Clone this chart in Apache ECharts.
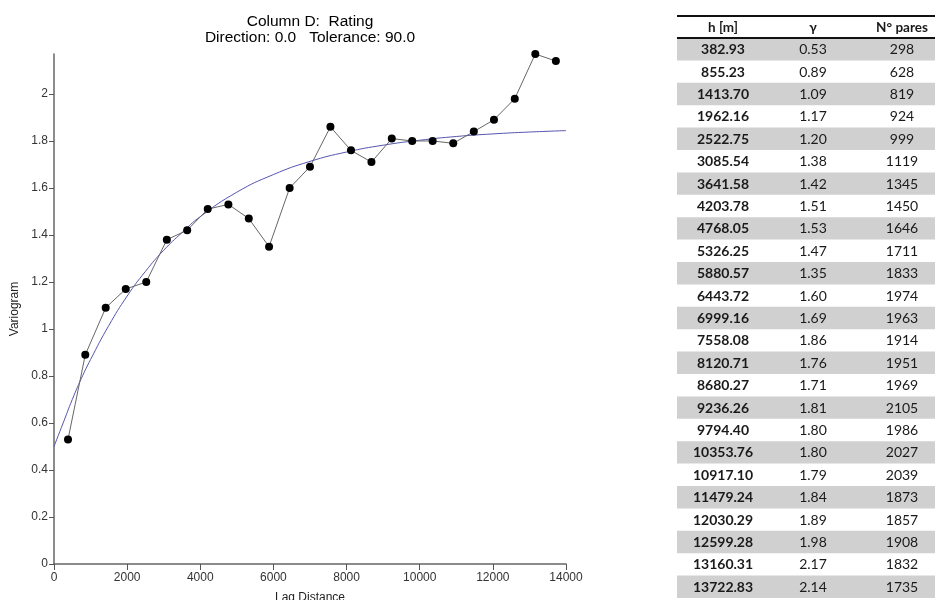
<!DOCTYPE html>
<html>
<head>
<meta charset="utf-8">
<script src="https://cdn.jsdelivr.net/npm/echarts@6/dist/echarts.min.js"></script>
<style>
html,body{margin:0;padding:0;background:#fff;}
#main{width:938px;height:600px;}
</style>
</head>
<body>
<div id="main"></div>
<script>
// Experimental variogram (from table)
const lagH = [382.93, 855.23, 1413.70, 1962.16, 2522.75, 3085.54, 3641.58, 4203.78, 4768.05, 5326.25, 5880.57, 6443.72, 6999.16, 7558.08, 8120.71, 8680.27, 9236.26, 9794.40, 10353.76, 10917.10, 11479.24, 12030.29, 12599.28, 13160.31, 13722.83];
const gammaVals = [0.53, 0.89, 1.09, 1.17, 1.20, 1.38, 1.42, 1.51, 1.53, 1.47, 1.35, 1.60, 1.69, 1.86, 1.76, 1.71, 1.81, 1.80, 1.80, 1.79, 1.84, 1.89, 1.98, 2.17, 2.14];
const pairCounts = [298, 628, 819, 924, 999, 1119, 1345, 1450, 1646, 1711, 1833, 1974, 1963, 1914, 1951, 1969, 2105, 1986, 2027, 2039, 1873, 1857, 1908, 1832, 1735];

// Fitted model curve
const modelH = [0, 250, 500, 750, 1000, 1500, 2000, 2500, 3000, 3500, 4000, 5000, 6000, 7000, 8000, 9000, 10000, 11000, 12000, 13000, 14000];
const modelG = [0.50, 0.60, 0.70, 0.79, 0.87, 1.015, 1.14, 1.245, 1.335, 1.41, 1.478, 1.582, 1.657, 1.713, 1.753, 1.782, 1.803, 1.819, 1.830, 1.838, 1.844];

// Axis ticks
const xTicks = [0, 2000, 4000, 6000, 8000, 10000, 12000, 14000];
const yTicks = [0, 0.2, 0.4, 0.6, 0.8, 1, 1.2, 1.4, 1.6, 1.8, 2];

const titleLines = ['Column D:  Rating', 'Direction: 0.0   Tolerance: 90.0'];
const tableHeader = ['h [m]', 'γ', 'N° pares'];

const chart = echarts.init(document.getElementById('main'), null, {renderer: 'canvas'});

// Table graphics
const tLeft = 677, tRight = 935, tTop = 16, headH = 22, rowH = 22.4;
const colX = [723, 813, 902];
const tableFont = 'Lato, "Open Sans", sans-serif';
const graphics = [];
titleLines.forEach((t, i) => {
  graphics.push({type: 'text', x: 310, y: 22 + i * 16, style: {text: t, font: '15.5px "Liberation Sans", Arial, sans-serif', fill: '#000', textAlign: 'center', textVerticalAlign: 'middle'}});
});
lagH.forEach((h, i) => {
  const y0 = tTop + headH + i * rowH;
  if (i % 2 === 0) {
    graphics.push({type: 'rect', shape: {x: tLeft, y: y0, width: tRight - tLeft, height: rowH}, style: {fill: '#d0d0d0'}, z: 1});
  }
  const cells = [h.toFixed(2), gammaVals[i].toFixed(2), String(pairCounts[i])];
  cells.forEach((c, j) => {
    graphics.push({type: 'text', x: colX[j], y: y0 + rowH / 2 + 0.5, z: 2,
      style: {text: c, font: (j === 0 ? 'bold ' : '') + '14px ' + tableFont, fill: '#1a1a1a', textAlign: 'center', textVerticalAlign: 'middle'}});
  });
});
tableHeader.forEach((c, j) => {
  graphics.push({type: 'text', x: colX[j], y: tTop + headH / 2 + 0.5, z: 2,
    style: {text: c, font: 'bold 13.5px ' + tableFont, fill: '#1a1a1a', textAlign: 'center', textVerticalAlign: 'middle'}});
});
graphics.push({type: 'line', shape: {x1: tLeft, y1: tTop, x2: tRight, y2: tTop}, style: {stroke: '#111', lineWidth: 2}, z: 3});
graphics.push({type: 'line', shape: {x1: tLeft, y1: tTop + headH, x2: tRight, y2: tTop + headH}, style: {stroke: '#111', lineWidth: 2}, z: 3});

const axisFont = '"Liberation Sans", Arial, sans-serif';

chart.setOption({
  animation: false,
  backgroundColor: '#fff',
  grid: {left: 54, right: 372, top: 54, bottom: 36, containLabel: false, outerBoundsMode: 'none'},
  xAxis: {
    type: 'value', min: 0, max: 14000, interval: 2000,
    name: 'Lag Distance', nameLocation: 'middle', nameGap: 28,
    nameTextStyle: {fontFamily: axisFont, fontSize: 12, color: '#222'},
    axisLine: {show: true, lineStyle: {color: '#666', width: 1.5}},
    axisTick: {show: true, inside: false, length: 6, lineStyle: {color: '#555', width: 1}, customValues: xTicks},
    axisLabel: {fontFamily: axisFont, fontSize: 12, color: '#333', margin: 8, customValues: xTicks,
      formatter: v => String(v)},
    splitLine: {show: false}
  },
  yAxis: {
    type: 'value', min: 0, max: 2.17,
    name: 'Variogram', nameLocation: 'middle', nameGap: 32, nameRotate: 90,
    nameTextStyle: {fontFamily: axisFont, fontSize: 12, color: '#222'},
    axisLine: {show: true, lineStyle: {color: '#666', width: 1.5}},
    axisTick: {show: true, inside: false, length: 5, lineStyle: {color: '#555', width: 1}, customValues: yTicks},
    axisLabel: {fontFamily: axisFont, fontSize: 12, color: '#333', margin: 6, customValues: yTicks,
      formatter: v => String(Math.round(v * 10) / 10)},
    splitLine: {show: false}
  },
  graphic: graphics,
  series: [
    {
      type: 'line', name: 'model',
      data: modelH.map((h, i) => [h, modelG[i]]),
      showSymbol: false, smooth: true,
      lineStyle: {color: '#5555b0', width: 1},
      z: 2
    },
    {
      type: 'line', name: 'experimental',
      data: lagH.map((h, i) => [h, gammaVals[i]]),
      symbol: 'circle', symbolSize: 8,
      itemStyle: {color: '#000'},
      lineStyle: {color: '#666', width: 1},
      z: 3
    }
  ]
});
</script>
</body>
</html>
